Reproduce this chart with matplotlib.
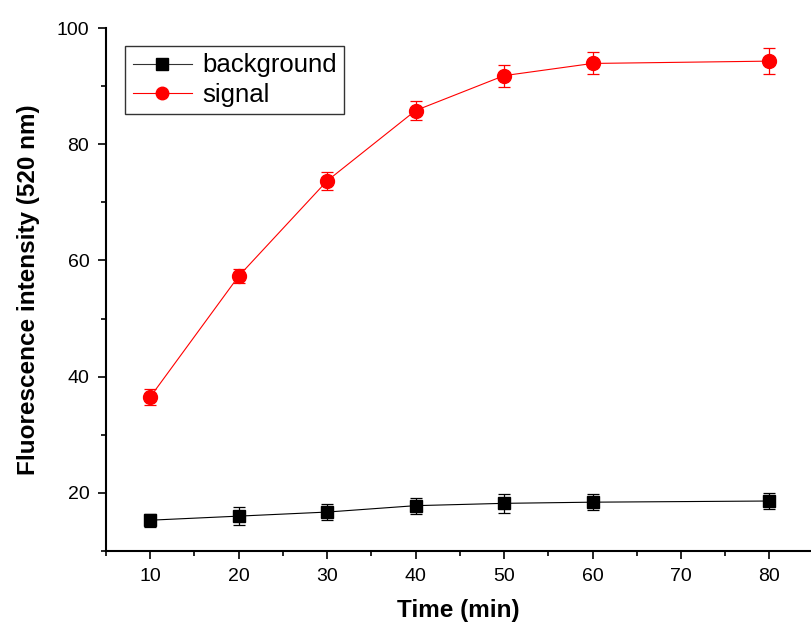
import matplotlib
matplotlib.use("Agg")
import matplotlib.pyplot as plt
from matplotlib.ticker import MultipleLocator
from matplotlib.lines import Line2D

plt.rcParams['font.family'] = ['Liberation Sans', 'DejaVu Sans']

time = [10, 20, 30, 40, 50, 60, 80]
background = [15.3, 16.0, 16.7, 17.8, 18.2, 18.4, 18.6]
background_err = [1.1, 1.5, 1.4, 1.4, 1.6, 1.4, 1.3]
signal = [36.5, 57.3, 73.7, 85.8, 91.8, 93.9, 94.3]
signal_err = [1.3, 1.2, 1.5, 1.6, 1.9, 1.9, 2.2]

fig = plt.figure(figsize=(8.11, 6.35), dpi=100)
ax = fig.add_axes([0.1307, 0.1323, 0.8693, 0.8236])

ax.errorbar(time, background, yerr=background_err, color='black', lw=0.8,
            marker='s', ms=9, mfc='black', mec='black', ecolor='black',
            elinewidth=0.9, capsize=4.5, capthick=0.9)
ax.errorbar(time, signal, yerr=signal_err, color='red', lw=0.8,
            marker='o', ms=10, mfc='red', mec='red', ecolor='red',
            elinewidth=0.9, capsize=4.5, capthick=0.9)

ax.set_xlim(5, 84.7)
ax.set_ylim(10, 100)
ax.xaxis.set_minor_locator(MultipleLocator(5))
ax.yaxis.set_minor_locator(MultipleLocator(10))
ax.set_xticks([10, 20, 30, 40, 50, 60, 70, 80])
ax.set_yticks([20, 40, 60, 80, 100])

for s in ['top', 'right']:
    ax.spines[s].set_visible(False)
for s in ['left', 'bottom']:
    ax.spines[s].set_linewidth(1.5)

ax.tick_params(which='major', direction='out', length=6, width=1.2, labelsize=14, pad=6)
ax.tick_params(which='minor', direction='out', length=3.5, width=1.2)

ax.set_xlabel('Time (min)', fontsize=17.5, fontweight='bold', labelpad=10)
ax.set_ylabel('Fluorescence intensity (520 nm)', fontsize=17.5, fontweight='bold', labelpad=12)

handles = [
    Line2D([], [], color='#333333', lw=0.8, marker='s', ms=8, mfc='black', mec='black'),
    Line2D([], [], color='red', lw=0.8, marker='o', ms=9, mfc='red', mec='red'),
]
leg = ax.legend(handles, ['background', 'signal'], loc='upper left',
                bbox_to_anchor=(0.027, 0.966), borderaxespad=0, fontsize=18.5,
                frameon=True, fancybox=False, edgecolor='black', handlelength=2.3,
                handletextpad=0.4, borderpad=0.3, labelspacing=0.2, numpoints=1)
leg.get_frame().set_linewidth(1.0)

fig.savefig('out.png', dpi=100)
